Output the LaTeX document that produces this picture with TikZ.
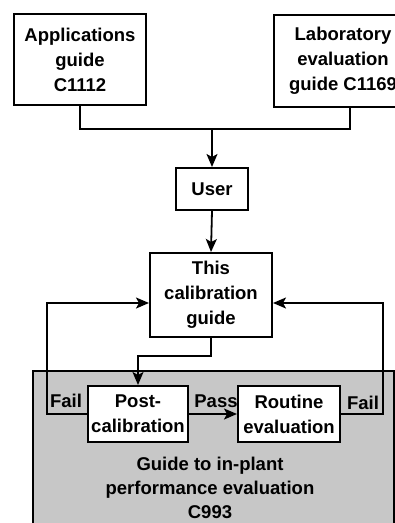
\documentclass[tikz,border=0pt]{standalone}
\usepackage{fontspec}
\setmainfont{Liberation Sans}
\usetikzlibrary{arrows.meta,calc}
\tikzset{
  box/.style={draw=black, line width=2pt, fill=white, rectangle, align=center, inner sep=1pt,
    font=\fontsize{18.5}{25}\selectfont\bfseries},
  lbl/.style={inner sep=0pt, font=\fontsize{18.5}{25}\selectfont\bfseries},
  link/.style={draw=black, line width=1.8pt},
  arr/.style={link, -{Stealth[length=13pt,width=11pt,inset=3pt]}},
  region/.style={draw=black, line width=2pt, fill=black!22}
}
\begin{document}
\begin{tikzpicture}[x=1pt,y=-1pt]
\clip (0,0) rectangle (395,523);
\fill[white] (0,0) rectangle (395,523);
% shaded region for in-plant performance evaluation
\path[region] (33,371) rectangle (394,560);
% boxes
\node[box, minimum width=132pt, minimum height=91pt] (app) at (80,59.5) {Applications\\guide\\C1112};
\node[box, minimum width=138pt, minimum height=92pt] (lab) at (343,60.5) {Laboratory\\evaluation\\guide C1169};
\node[box, minimum width=72pt, minimum height=42pt] (user) at (212,189) {User};
\node[box, minimum width=122pt, minimum height=84pt] (cal) at (211,295) {This\\calibration\\guide};
\node[box, minimum width=100pt, minimum height=56pt] (post) at (138,414) {Post-\\calibration};
\node[box, minimum width=102pt, minimum height=56pt] (rout) at (289,414) {Routine\\evaluation};
\node[lbl, align=center, font=\fontsize{18.5}{24}\selectfont\bfseries] (ipe) at (210,488) {Guide to in-plant\\performance evaluation\\C993};
% helper coordinates
\coordinate (j) at (212,129);
\coordinate (k) at (0,356);
\coordinate (fl) at (47,303);
\coordinate (fr) at (383,303);
% connectors
\draw[link] (app.south) |- (j) -| ([xshift=7pt]lab.south);
\draw[arr] (j) -- (user.north);
\draw[arr] (user.south) -- (cal.north);
\draw[arr] (cal.south) |- (k -| post.north) -- (post.north);
\draw[arr] (post.east) -- (rout.west);
\draw[arr] (post.west) -| (fl) -- (fl -| cal.west);
\draw[arr] (rout.east) -| (fr) -- (fr -| cal.east);
% labels
\node[lbl] (failL) at (66,401) {Fail};
\node[lbl] (pass) at (216,401) {Pass};
\node[lbl] (failR) at (363,403) {Fail};
\end{tikzpicture}
\end{document}
